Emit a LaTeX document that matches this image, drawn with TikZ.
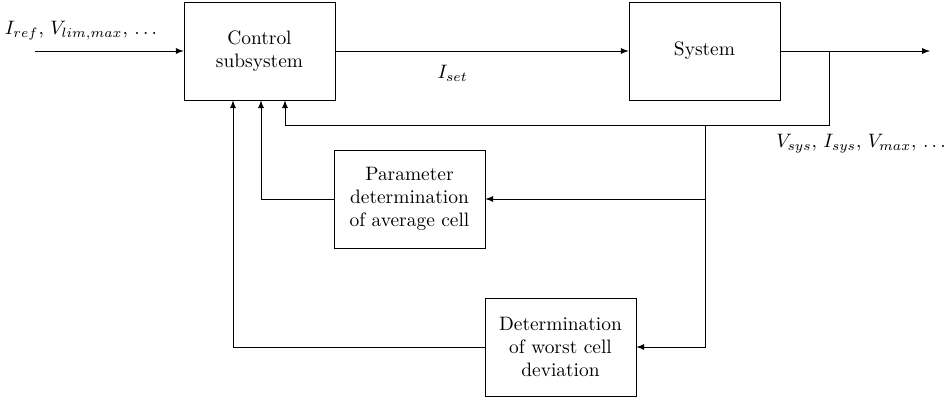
\documentclass[tikz,border=0pt]{standalone}
\usepackage{amsmath,amssymb}
\usetikzlibrary{arrows,positioning,calc}
\tikzstyle{block}=[draw,rectangle,minimum width=2.73cm,minimum height=1.77cm,align=center,inner sep=2pt]

\begin{document}
\begin{tikzpicture}[x=0.0181cm,y=-0.0181cm,>=latex]
\useasboundingbox (0,0) rectangle (946,398);
% blocks
\node [block] (ctrl) at (259.5,51) {Control\\subsystem};
\node [block] (sys) at (704.5,51) {System};
\node [block] (avg) at (409.5,199) {Parameter\\determination\\of average cell};
\node [block] (worst) at (560.5,347) {Determination\\of worst cell\\deviation};
% signal points
\coordinate (in) at (35,51);
\coordinate (out) at (930,51);
\coordinate (tap) at (829,51);
\coordinate (fb) at (705,125);
\node (inlabel) at (81,31) {$I_{ref}$, $V_{lim,max}$, $\ldots$};
\node (outlabel) at (861,144) {$V_{sys}$, $I_{sys}$, $V_{max}$, $\ldots$};
% connections
\draw[->] (in) -- (ctrl);
\draw[->] (ctrl) -- node[below=4pt,pos=0.4] {$I_{set}$} (sys);
\draw[->] (sys) -- (out);
\draw[->] (tap) |- ($(ctrl.south)+(25.5,25)$) -- ($(ctrl.south)+(25.5,0)$);
\draw[->] (fb) |- (avg);
\draw[->] (fb) |- (worst);
\draw[->] (avg) -| ($(ctrl.south)+(1.5,0)$);
\draw[->] (worst) -| ($(ctrl.south)+(-26.5,0)$);
\end{tikzpicture}
\end{document}
